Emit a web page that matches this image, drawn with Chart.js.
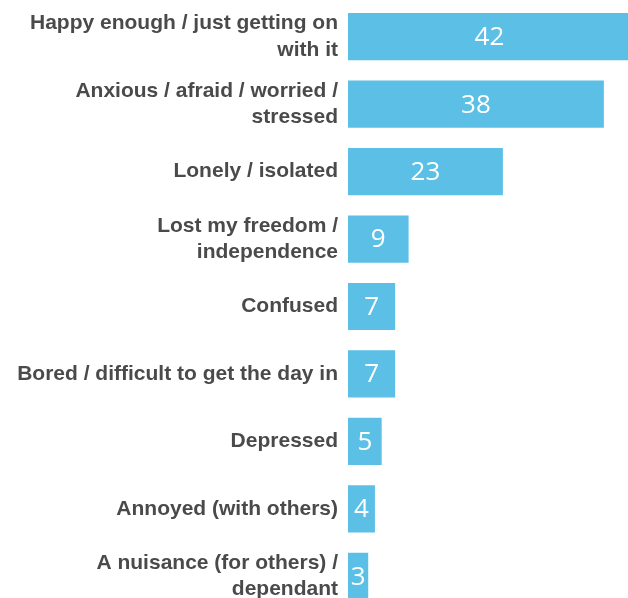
<!DOCTYPE html>
<html>
<head>
<meta charset="utf-8">
<script src="https://cdn.jsdelivr.net/npm/chart.js@4/dist/chart.umd.min.js"></script>
<style>
  html, body { margin:0; padding:0; background:#fff; overflow:hidden; }
  #wrap { position:absolute; left:0; top:0; }
</style>
</head>
<body>
<div id="wrap"><canvas id="chart" width="651" height="610"></canvas></div>
<script>
/* ---------- data ---------- */
const categories = [
  ['Happy enough / just getting on', 'with it'],
  ['Anxious / afraid / worried /', 'stressed'],
  'Lonely / isolated',
  ['Lost my freedom /', 'independence'],
  'Confused',
  'Bored / difficult to get the day in',
  'Depressed',
  'Annoyed (with others)',
  ['A nuisance (for others) /', 'dependant']
];
const values = [42, 38, 23, 9, 7, 7, 5, 4, 3];

/* ---------- value labels inside bars ---------- */
const barValues = {
  id: 'barValues',
  afterDatasetsDraw(chart) {
    const ctx = chart.ctx;
    const meta = chart.getDatasetMeta(0);
    ctx.save();
    ctx.fillStyle = '#ffffff';
    ctx.font = '26px "Open Sans", sans-serif';
    ctx.textAlign = 'center';
    ctx.textBaseline = 'middle';
    meta.data.forEach((bar, i) => {
      const p = bar.getProps(['x', 'y', 'base'], true);
      ctx.fillText(String(values[i]), (p.x + p.base) / 2, p.y + 1);
    });
    ctx.restore();
  }
};

new Chart(document.getElementById('chart').getContext('2d'), {
  type: 'bar',
  data: {
    labels: categories,
    datasets: [{
      data: values,
      backgroundColor: '#5bbfe6',
      borderWidth: 0,
      barPercentage: 0.7,
      categoryPercentage: 1
    }]
  },
  options: {
    indexAxis: 'y',
    responsive: false,
    animation: false,
    layout: { padding: { top: 3, right: 0, bottom: 0, left: 0 } },
    plugins: { legend: { display: false }, tooltip: { enabled: false } },
    scales: {
      x: { display: false, min: 0, max: 45 },
      y: {
        afterFit: s => { s.width = 348; s.paddingTop = 0; s.paddingBottom = 0; },
        grid: { display: false, drawTicks: false },
        border: { display: false },
        ticks: {
          padding: 10,
          color: '#4a4a4a',
          font: { family: '"Liberation Sans", Arial, sans-serif', size: 21, weight: 'bold', lineHeight: 1.24 }
        }
      }
    }
  },
  plugins: [barValues]
});
</script>
</body>
</html>
